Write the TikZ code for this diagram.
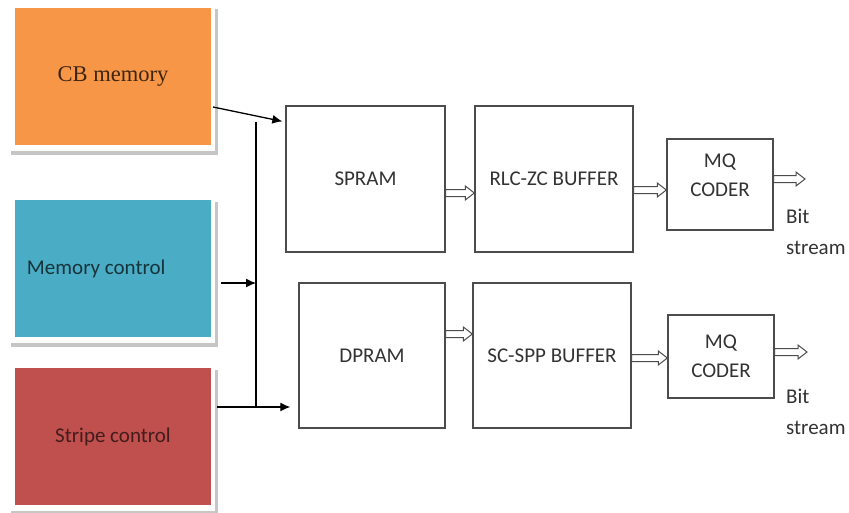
\documentclass[tikz,border=0pt]{standalone}
\usepackage{fontspec}
\setmainfont{Carlito}
\newfontfamily\timesfont{Liberation Serif}
\usetikzlibrary{arrows.meta, positioning, calc, backgrounds}
\definecolor{cborange}{HTML}{F79646}
\definecolor{memblue}{HTML}{4BACC6}
\definecolor{stripered}{HTML}{C0504D}

\begin{document}
\begin{tikzpicture}[
    x=1pt, y=-1pt,
    srcbox/.style={rectangle, minimum width=196pt, minimum height=137pt, inner sep=0pt, font=\fontsize{21}{25}\selectfont},
    block/.style={rectangle, draw=black!70, line width=1.4pt, fill=white, text=black!80, align=center, inner sep=0pt, font=\fontsize{21}{29}\selectfont},
    arrow/.style={-{Latex[length=10pt, width=9pt]}, line width=1.3pt},
    % hollow block arrow, drawn as an outline
    pipe/.style={draw=black!70, line width=1pt, fill=white, to path={
        let \p1=(\tikztostart), \p2=(\tikztotarget) in
        (\x1,\y1+3.5pt) -- (\x2-9pt,\y1+3.5pt) -- (\x2-9pt,\y1+7pt) -- (\x2,\y1)
        -- (\x2-9pt,\y1-7pt) -- (\x2-9pt,\y1-3.5pt) -- (\x1,\y1-3.5pt) -- cycle}},
    outtext/.style={anchor=west, align=left, text=black!80, inner sep=0pt, font=\fontsize{21}{31}\selectfont}
]
\useasboundingbox (0,0) rectangle (849,512);

% input blocks
\node[srcbox, fill=cborange, text=cborange!25!black, font=\timesfont\fontsize{22.5}{26}\selectfont] (cbmem) at (113,76) {CB memory};
\node[srcbox, fill=memblue, text=memblue!30!black, text width=172pt, align=flush left] (memctl) at (113,268.5) {Memory control};
\node[srcbox, fill=stripered, text=stripered!35!black] (stripe) at (113,436.5) {Stripe control};

\begin{scope}[on background layer]
\fill[white] (0,0) rectangle (849,512);
\foreach \n in {cbmem,memctl,stripe}{
    \fill[gray!45] ([shift={(-4,2)}]\n.north west) rectangle ([shift={(7,10)}]\n.south east);
    \fill[white] ([shift={(-5,-5)}]\n.north west) rectangle ([shift={(4,6)}]\n.south east);
}
\end{scope}

% processing blocks
\node[block, minimum width=159pt, minimum height=146pt] (spram) at (365.5,179) {SPRAM};
\node[block, minimum width=158pt, minimum height=146pt] (rlc) at (554,179) {RLC-ZC BUFFER};
\node[block, minimum width=146pt, minimum height=145pt] (dpram) at (372,355.5) {DPRAM};
\node[block, minimum width=158pt, minimum height=145pt] (scspp) at (552,355.5) {SC-SPP BUFFER};
\node[block, minimum width=106pt, minimum height=91pt] (mqa) at (720,184.5) {MQ\\CODER\\[-10pt]};
\node[block, minimum width=106pt, minimum height=83pt] (mqb) at (721,356.5) {MQ\\CODER};

\node[outtext] (bitsa) at (786,232) {Bit\\stream};
\node[outtext] (bitsb) at (786,412) {Bit\\stream};

% control bus
\coordinate (bustop) at (256,122);
\coordinate (busbot) at (256,407);
\coordinate (cbout) at (213,107);
\coordinate (memout) at (221,283);
\coordinate (stripeout) at (217,407);
\coordinate (outa) at (805,179);
\coordinate (outb) at (807,352);

\draw[line width=1.3pt] (bustop) -- (busbot);
\draw[arrow, shorten >=3pt] (cbout) -- (spram.west |- bustop);
\draw[arrow] (memout) -- (bustop |- memout);
\draw[arrow, shorten >=8pt] (stripeout) -- (dpram.west |- stripeout);

% data paths
\draw[pipe] (spram.east |- 0,193) to (rlc.west |- 0,193);
\draw[pipe] (rlc.east |- 0,190) to (mqa.west |- 0,190);
\draw[pipe] (mqa.east |- outa) to (outa);
\draw[pipe] (dpram.east |- 0,334) to (scspp.west |- 0,334);
\draw[pipe] (scspp.east |- 0,358) to (mqb.west |- 0,358);
\draw[pipe] (mqb.east |- outb) to (outb);
\end{tikzpicture}
\end{document}
